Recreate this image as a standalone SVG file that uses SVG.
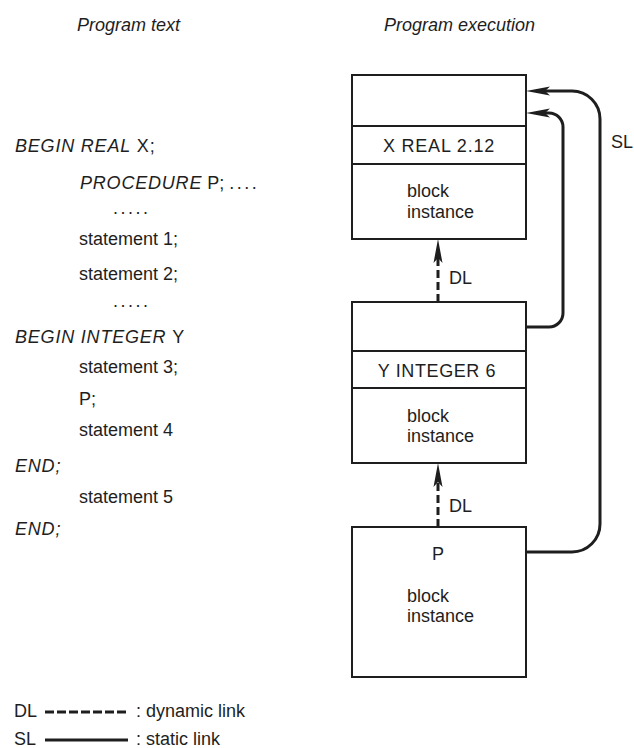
<svg xmlns="http://www.w3.org/2000/svg" width="634" height="748" viewBox="0 0 634 748">
<style>
  text { font-family: "Liberation Sans", Arial, sans-serif; font-size: 18px; fill: #1e1e1e; }
  .it { font-style: italic; }
  .caps { letter-spacing: 0.8px; }
  .box { fill: #fff; stroke: #1e1e1e; stroke-width: 2; }
  .div { stroke: #1e1e1e; stroke-width: 2; }
  .sl { fill: none; stroke: #1e1e1e; stroke-width: 3; }
  .dl { fill: none; stroke: #1e1e1e; stroke-width: 3; stroke-dasharray: 8 4; }
  .mid { text-anchor: middle; }
</style>
<defs>
  <marker id="arr" markerUnits="userSpaceOnUse" viewBox="-16 -6 28 12" refX="0" refY="0" markerWidth="28" markerHeight="12" orient="auto">
    <path d="M10,0 L-14,-4.5 L-9,0 L-14,4.5 Z" fill="#1e1e1e"/>
  </marker>
</defs>
<rect width="634" height="748" fill="#fff"/>

<text class="it" x="77" y="31">Program text</text>
<text class="it" x="384" y="31">Program execution</text>

<g id="program-text">
  <text x="15" y="152" class="caps"><tspan class="it">BEGIN REAL</tspan> X;</text>
  <text x="80" y="189"><tspan class="it caps">PROCEDURE</tspan> P; <tspan letter-spacing="2.5">....</tspan></text>
  <text x="113" y="214" letter-spacing="2.5">.....</text>
  <text x="79" y="245">statement 1;</text>
  <text x="79" y="280">statement 2;</text>
  <text x="113" y="307" letter-spacing="2.5">.....</text>
  <text x="15" y="343" class="it caps">BEGIN INTEGER <tspan font-style="normal">Y</tspan></text>
  <text x="79" y="373">statement 3;</text>
  <text x="79" y="405">P;</text>
  <text x="79" y="436">statement 4</text>
  <text x="15" y="472" class="it caps">END;</text>
  <text x="79" y="503">statement 5</text>
  <text x="15" y="535" class="it caps">END;</text>
</g>

<g id="node-x">
  <rect class="box" x="352" y="75" width="174" height="164"/>
  <line class="div" x1="352" y1="126" x2="526" y2="126"/>
  <line class="div" x1="352" y1="164" x2="526" y2="164"/>
  <text class="mid caps" x="439" y="152">X REAL 2.12</text>
  <text x="407" y="197">block</text>
  <text x="407" y="218">instance</text>
</g>

<g id="node-y">
  <rect class="box" x="352" y="302" width="174" height="161"/>
  <line class="div" x1="352" y1="351" x2="526" y2="351"/>
  <line class="div" x1="352" y1="388" x2="526" y2="388"/>
  <text class="mid" x="437" y="377" letter-spacing="0.6">Y INTEGER 6</text>
  <text x="407" y="422">block</text>
  <text x="407" y="442">instance</text>
</g>

<g id="node-p">
  <rect class="box" x="352" y="527" width="174" height="150"/>
  <text class="mid" x="438" y="560">P</text>
  <text x="407" y="602">block</text>
  <text x="407" y="622">instance</text>
</g>

<g id="connectors">
  <path class="dl" d="M438,302 V249" marker-end="url(#arr)"/>
  <path class="dl" d="M438,527 V473" marker-end="url(#arr)"/>
  <path class="sl" d="M526,327 H549 A14,14 0 0 0 563,313 V127 A14,14 0 0 0 549,113 H536" marker-end="url(#arr)"/>
  <path class="sl" d="M526,552 H572 A28,28 0 0 0 600,524 V119 A28,28 0 0 0 572,91 H536" marker-end="url(#arr)"/>
  <text x="449" y="284">DL</text>
  <text x="449" y="512">DL</text>
  <text x="611" y="148">SL</text>
</g>

<g id="legend">
  <text x="14" y="717">DL</text>
  <line class="dl" x1="45" y1="712" x2="128" y2="712" style="stroke-dasharray: 9 3"/>
  <text x="136" y="717">: dynamic link</text>
  <text x="14" y="745">SL</text>
  <line class="sl" x1="45" y1="740" x2="128" y2="740"/>
  <text x="136" y="745">: static link</text>
</g>
</svg>
